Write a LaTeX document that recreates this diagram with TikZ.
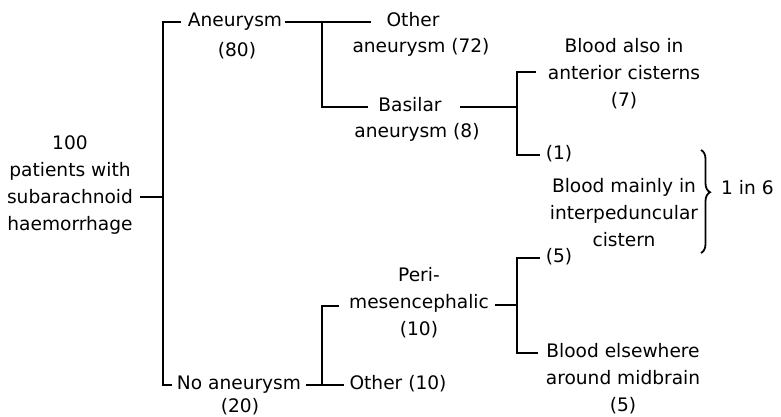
\documentclass[tikz,border=0pt]{standalone}
\usepackage{fontspec}
\setmainfont{DejaVu Sans}
\usetikzlibrary{decorations.pathreplacing}
\tikzset{
  lbl/.style={inner sep=0pt, font=\fontsize{18.6}{27}\selectfont, text height=13pt, text depth=4pt},
  mlbl/.style={inner sep=0pt, align=center, font=\fontsize{18.6}{27}\selectfont},
  conn/.style={line width=2.4pt},
  bracebar/.style={line width=1.8pt, decorate, decoration={brace, amplitude=9pt, aspect=0.41}},
}
\begin{document}
\begin{tikzpicture}[x=1pt,y=-1pt]
\useasboundingbox (0,0) rectangle (781,417);

% nodes
\node[mlbl] (root) at (70,185) {100\\patients with\\subarachnoid\\haemorrhage};
\node[lbl] (aneu) at (235,22) {Aneurysm};
\node[lbl] (c80) at (237,52) {(80)};
\node[lbl] (noan) at (239,385) {No aneurysm};
\node[lbl] (c20) at (240,408) {(20)};
\node[lbl] (other) at (413,22) {Other};
\node[lbl] (an72) at (421,48) {aneurysm (72)};
\node[lbl] (basilar) at (410,107) {Basilar};
\node[lbl] (an8) at (417,133) {aneurysm (8)};
\node[mlbl] (blood1) at (624,74) {Blood also in\\anterior cisterns\\(7)};
\node[lbl] (one) at (559,155) {(1)};
\node[mlbl] (bmain) at (624,213) {Blood mainly in\\interpeduncular\\cistern};
\node[lbl, anchor=west] (ratio) at (721,190) {1 in 6};
\node[mlbl] (peri) at (419,303) {Peri-\\mesencephalic\\(10)};
\node[lbl] (other10) at (398,385) {Other (10)};
\node[lbl] (five) at (559,258) {(5)};
\node[mlbl] (belse) at (623,379) {Blood elsewhere\\around midbrain\\(5)};

% junctions
\coordinate (j0) at (163,197);
\coordinate (j1) at (322,22);
\coordinate (j2) at (517,107);
\coordinate (j3) at (322,385);
\coordinate (j4) at (517,305);

% root split
\draw[conn] ([xshift=7pt]root.east |- j0) -- (j0);
\draw[conn] ([xshift=-7pt]aneu.west) -- (163,22) -- (163,385) -- ([xshift=-5pt]noan.west);

% aneurysm split
\draw[conn] ([xshift=3pt]aneu.east) -- ([xshift=-15pt]other.west);
\draw[conn] (j1) -- (322,107) -- ([xshift=-10pt]basilar.west);

% basilar split
\draw[conn] ([xshift=18pt]basilar.east) -- (j2);
\draw[conn] ([xshift=-12pt]blood1.west |- 0,72) -- (517,72) -- (517,155) -- ([xshift=-6pt]one.west);

% no aneurysm split
\draw[conn] ([xshift=5pt]noan.east) -- ([xshift=-5pt]other10.west);
\draw[conn] (j3) -- (322,306) -- ([xshift=-10pt]peri.west |- 0,306);

% perimesencephalic split
\draw[conn] ([xshift=6pt]peri.east |- j4) -- (j4);
\draw[conn] ([xshift=-6pt]five.west) -- (517,258) -- (517,353) -- ([xshift=-8pt]belse.west |- 0,353);

% brace
\draw[bracebar] (701,150) -- (701,253);

\end{tikzpicture}
\end{document}
